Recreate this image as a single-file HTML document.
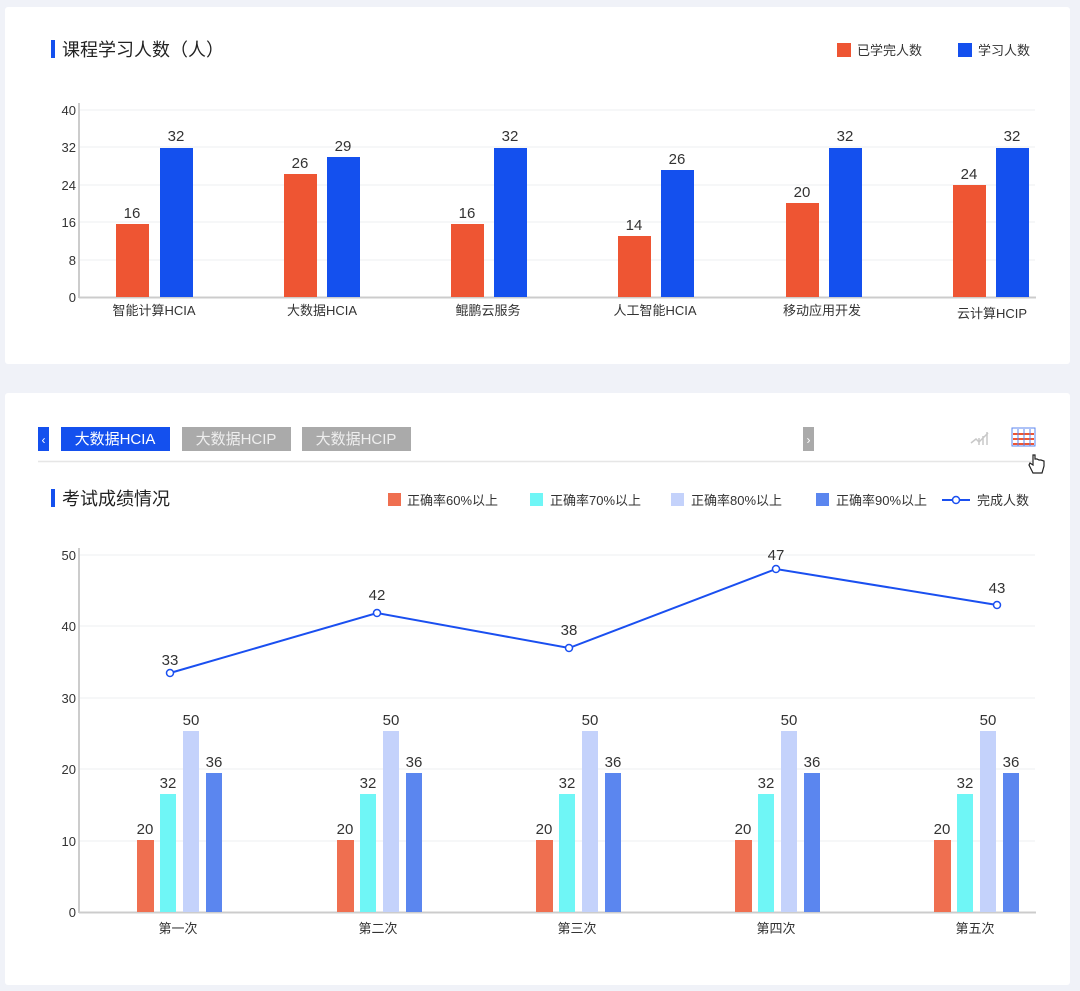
<!DOCTYPE html>
<html><head><meta charset="utf-8"><style>
body{margin:0;background:#f0f2f8;width:1080px;height:991px;overflow:hidden}
svg{display:block}
text{font-family:"Liberation Sans","Noto Sans CJK SC",sans-serif}
</style></head><body>
<svg width="1080" height="991" viewBox="0 0 1080 991" xmlns="http://www.w3.org/2000/svg">
<rect x="0" y="0" width="1080" height="991" fill="#f0f2f8"/>
<rect x="5" y="7" width="1065" height="357" rx="3" fill="#fff"/>
<rect x="5" y="393" width="1065" height="592" rx="3" fill="#fff"/>

<!-- Chart 1 -->
<rect x="51" y="40" width="4" height="18" fill="#1450ee"/>
<text x="62" y="56" font-size="18" fill="#222">课程学习人数（人）</text>
<rect x="837" y="43" width="14" height="14" fill="#ee5533"/>
<text x="857" y="55" font-size="13" fill="#333">已学完人数</text>
<rect x="958" y="43" width="14" height="14" fill="#1450ee"/>
<text x="978" y="55" font-size="13" fill="#333">学习人数</text>
<g stroke="#eeeff2" stroke-width="1">
<line x1="79" y1="110" x2="1035" y2="110"/><line x1="79" y1="147" x2="1035" y2="147"/>
<line x1="79" y1="185" x2="1035" y2="185"/><line x1="79" y1="222" x2="1035" y2="222"/>
<line x1="79" y1="260" x2="1035" y2="260"/>
</g>
<line x1="79" y1="103" x2="79" y2="298" stroke="#ccc" stroke-width="2"/>
<line x1="79" y1="297.5" x2="1036" y2="297.5" stroke="#ccc" stroke-width="2"/>
<g font-size="13" fill="#333" text-anchor="end">
<text x="76" y="115">40</text><text x="76" y="152">32</text><text x="76" y="190">24</text>
<text x="76" y="227">16</text><text x="76" y="265">8</text><text x="76" y="302">0</text>
</g>
<g fill="#ee5533">
<rect x="116" y="224" width="33" height="73"/><rect x="284" y="174" width="33" height="123"/>
<rect x="451" y="224" width="33" height="73"/><rect x="618" y="236" width="33" height="61"/>
<rect x="786" y="203" width="33" height="94"/><rect x="953" y="185" width="33" height="112"/>
</g>
<g fill="#1450ee">
<rect x="160" y="148" width="33" height="149"/><rect x="327" y="157" width="33" height="140"/>
<rect x="494" y="148" width="33" height="149"/><rect x="661" y="170" width="33" height="127"/>
<rect x="829" y="148" width="33" height="149"/><rect x="996" y="148" width="33" height="149"/>
</g>
<g font-size="15" fill="#333" text-anchor="middle">
<text x="132" y="218">16</text><text x="176" y="141">32</text>
<text x="300" y="168">26</text><text x="343" y="151">29</text>
<text x="467" y="218">16</text><text x="510" y="141">32</text>
<text x="634" y="230">14</text><text x="677" y="164">26</text>
<text x="802" y="197">20</text><text x="845" y="141">32</text>
<text x="969" y="179">24</text><text x="1012" y="141">32</text>
</g>
<g font-size="13" fill="#333" text-anchor="middle">
<text x="154" y="315">智能计算HCIA</text><text x="322" y="315">大数据HCIA</text>
<text x="488" y="315">鲲鹏云服务</text><text x="655" y="315">人工智能HCIA</text>
<text x="822" y="315">移动应用开发</text><text x="992" y="318">云计算HCIP</text>
</g>

<!-- Tabs -->
<rect x="38" y="427" width="11" height="24" fill="#1450ee"/>
<text x="43.5" y="444" font-size="12" fill="#fff" text-anchor="middle">‹</text>
<rect x="61" y="427" width="109" height="24" fill="#1450ee"/>
<text x="115" y="444" font-size="15" fill="#fff" text-anchor="middle">大数据HCIA</text>
<rect x="182" y="427" width="109" height="24" fill="#aaa"/>
<text x="236" y="444" font-size="15" fill="#eee" text-anchor="middle">大数据HCIP</text>
<rect x="302" y="427" width="109" height="24" fill="#aaa"/>
<text x="356" y="444" font-size="15" fill="#eee" text-anchor="middle">大数据HCIP</text>
<rect x="803" y="427" width="11" height="24" fill="#aaa"/>
<text x="808.5" y="444" font-size="12" fill="#fff" text-anchor="middle">›</text>
<line x1="38" y1="461.5" x2="1035" y2="461.5" stroke="#e6e6e6" stroke-width="1.5"/>
<g stroke="#c8c8c8" stroke-width="1.5" fill="none">
<path d="M971 443 l5 -4 l3 3 l9 -9"/><line x1="979" y1="445" x2="979" y2="438"/><line x1="983" y1="445" x2="983" y2="436"/><line x1="987" y1="445" x2="987" y2="432"/>
</g>
<rect x="1012" y="428" width="23" height="18" fill="#fff" stroke="#5b86ef"/>
<g fill="#ee5533"><rect x="1013" y="433" width="21" height="2"/><rect x="1013" y="438" width="21" height="2"/><rect x="1013" y="443" width="21" height="2"/></g>
<g stroke="#5b86ef"><line x1="1018" y1="429" x2="1018" y2="446"/><line x1="1024" y1="429" x2="1024" y2="446"/><line x1="1030" y1="429" x2="1030" y2="446"/></g>
<path d="M1033 455 v10 l-3 -2 l-1 2 l4 8 h9 l2 -7 v-5 l-3 -1 l-2 0 l-2 -1 l-2 0 v-4 z" fill="#fff" stroke="#222" stroke-width="1.2"/>

<!-- Chart 2 -->
<rect x="51" y="489" width="4" height="18" fill="#1450ee"/>
<text x="62" y="505" font-size="18" fill="#222">考试成绩情况</text>
<g font-size="13" fill="#333">
<rect x="388" y="493" width="13" height="13" fill="#ef6f50"/><text x="407" y="505">正确率60%以上</text>
<rect x="530" y="493" width="13" height="13" fill="#6ff6f6"/><text x="550" y="505">正确率70%以上</text>
<rect x="671" y="493" width="13" height="13" fill="#c4d2fb"/><text x="691" y="505">正确率80%以上</text>
<rect x="816" y="493" width="13" height="13" fill="#5b86ef"/><text x="836" y="505">正确率90%以上</text>
<line x1="942" y1="500" x2="970" y2="500" stroke="#1a4ff0" stroke-width="2"/>
<circle cx="956" cy="500" r="3.5" fill="#fff" stroke="#1a4ff0" stroke-width="1.5"/>
<text x="977" y="505">完成人数</text>
</g>
<g stroke="#eeeff2" stroke-width="1">
<line x1="79" y1="555" x2="1035" y2="555"/><line x1="79" y1="626" x2="1035" y2="626"/>
<line x1="79" y1="698" x2="1035" y2="698"/><line x1="79" y1="769" x2="1035" y2="769"/>
<line x1="79" y1="841" x2="1035" y2="841"/>
</g>
<line x1="79" y1="548" x2="79" y2="913" stroke="#ccc" stroke-width="2"/>
<line x1="79" y1="912.5" x2="1036" y2="912.5" stroke="#ccc" stroke-width="2"/>
<g font-size="13" fill="#333" text-anchor="end">
<text x="76" y="560">50</text><text x="76" y="631">40</text><text x="76" y="703">30</text>
<text x="76" y="774">20</text><text x="76" y="846">10</text><text x="76" y="917">0</text>
</g>
<g id="grp">
<rect x="137" y="840" width="17" height="72" fill="#ef6f50"/>
<rect x="160" y="794" width="16" height="118" fill="#6ff6f6"/>
<rect x="183" y="731" width="16" height="181" fill="#c4d2fb"/>
<rect x="206" y="773" width="16" height="139" fill="#5b86ef"/>
<g font-size="15" fill="#333" text-anchor="middle">
<text x="145" y="834">20</text><text x="168" y="788">32</text><text x="191" y="725">50</text><text x="214" y="767">36</text>
</g>
</g>
<use href="#grp" x="200"/><use href="#grp" x="399"/><use href="#grp" x="598"/><use href="#grp" x="797"/>
<g font-size="13" fill="#333" text-anchor="middle">
<text x="178" y="933">第一次</text><text x="378" y="933">第二次</text><text x="577" y="933">第三次</text>
<text x="776" y="933">第四次</text><text x="975" y="933">第五次</text>
</g>
<polyline points="170,673 377,613 569,648 776,569 997,605" fill="none" stroke="#1a4ff0" stroke-width="2"/>
<g fill="#fff" stroke="#1a4ff0" stroke-width="1.5">
<circle cx="170" cy="673" r="3.5"/><circle cx="377" cy="613" r="3.5"/><circle cx="569" cy="648" r="3.5"/><circle cx="776" cy="569" r="3.5"/><circle cx="997" cy="605" r="3.5"/>
</g>
<g font-size="15" fill="#333" text-anchor="middle">
<text x="170" y="665">33</text><text x="377" y="600">42</text><text x="569" y="635">38</text><text x="776" y="560">47</text><text x="997" y="593">43</text>
</g>
</svg>
</body></html>
